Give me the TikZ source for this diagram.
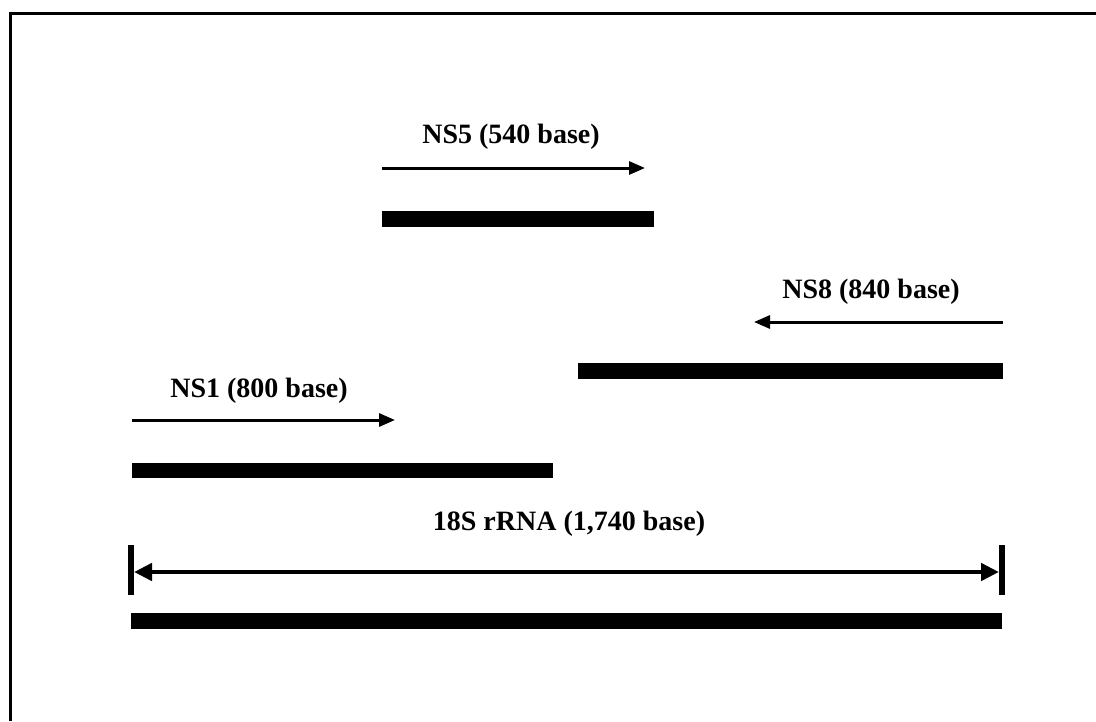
\documentclass[tikz,border=0pt]{standalone}
\usepackage{fontspec}
\setmainfont{Liberation Serif}
\usetikzlibrary{arrows.meta}
\begin{document}
\begin{tikzpicture}[x=1pt,y=-1pt,
  lbl/.style={font=\fontsize{28}{31}\selectfont\bfseries, anchor=base, inner sep=0pt},
  primer/.style={line width=3pt, -{Triangle[length=16pt,width=13pt]}},
  span/.style={line width=4.5pt, {Triangle[length=18pt,width=17pt]}-{Triangle[length=18pt,width=17pt]}},
  tick/.style={line width=6pt},
  seg/.style={fill=black, draw=none},
  frame/.style={line width=3pt}]
\useasboundingbox (0,0) rectangle (1096,721);
% frame (only top and left edges visible)
\coordinate (fA) at (10,721);
\coordinate (fB) at (10,13);
\coordinate (fC) at (1096,13);
\draw[frame] (fA) -- (fB) -- (fC);

% NS5
\node[lbl] (ns5) at (511,143) {NS5 (540 base)};
\coordinate (ns5s) at (382,168);
\coordinate (ns5e) at (645,168);
\draw[primer] (ns5s) -- (ns5e);
\fill[seg] (382,211) rectangle (654,227);

% NS8
\node[lbl] (ns8) at (871,298) {NS8 (840 base)};
\coordinate (ns8s) at (1003,322);
\coordinate (ns8e) at (754,322);
\draw[primer] (ns8s) -- (ns8e);
\fill[seg] (578,363) rectangle (1003,379);

% NS1
\node[lbl] (ns1) at (259,397) {NS1 (800 base)};
\coordinate (ns1s) at (132,420);
\coordinate (ns1e) at (395,420);
\draw[primer] (ns1s) -- (ns1e);
\fill[seg] (132,463) rectangle (553,478);

% 18S rRNA
\node[lbl] (rrna) at (569,530) {18S rRNA (1,740 base)};
\coordinate (tl1) at (131,545);
\coordinate (tl2) at (131,595);
\coordinate (tr1) at (1002,545);
\coordinate (tr2) at (1002,595);
\draw[tick] (tl1) -- (tl2);
\draw[tick] (tr1) -- (tr2);
\coordinate (sl) at (134,572);
\coordinate (sr) at (999,572);
\draw[span] (sl) -- (sr);
\fill[seg] (131,613) rectangle (1002,629);
\end{tikzpicture}
\end{document}
